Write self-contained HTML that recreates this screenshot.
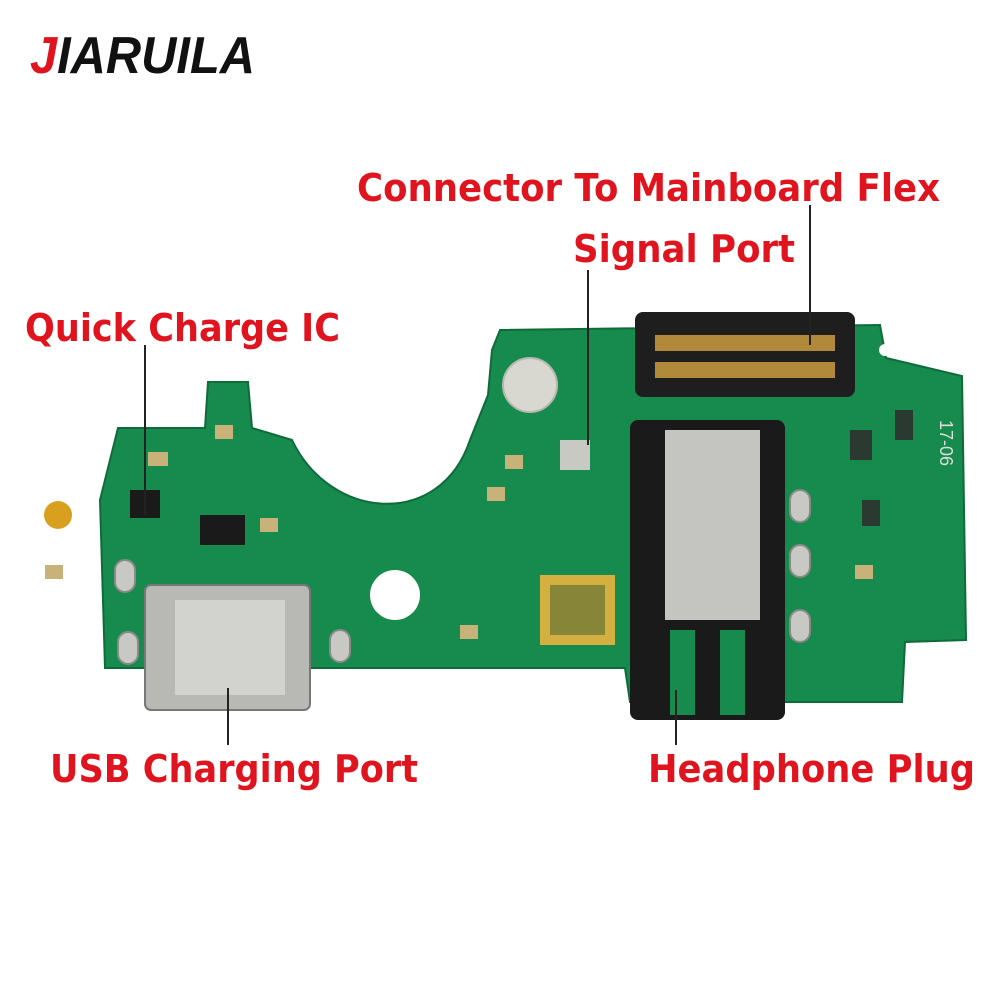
<!DOCTYPE html>
<html><head><meta charset="utf-8"><style>
html,body{margin:0;padding:0;background:#fff;}
svg{display:block;}
</style></head><body>
<svg width="1000" height="1000" viewBox="0 0 1000 1000" xmlns="http://www.w3.org/2000/svg">
<rect width="1000" height="1000" fill="#fff"/>
<text x="30" y="73" font-family="Liberation Sans, sans-serif" font-weight="bold" font-style="italic" font-size="52" textLength="225" lengthAdjust="spacingAndGlyphs"><tspan fill="#e0141e">J</tspan><tspan fill="#111">IARUILA</tspan></text>

<path d="M118 428 L205 428 L208 382 L248 382 L252 428 L292 440 C330 520 440 530 470 440 L488 395 L492 350 L500 330 L880 325 L886 358 L962 376 L966 640 L905 642 L902 702 L630 702 L625 668 L105 668 L100 500 Z" fill="#178a4e" stroke="#0f6b3a" stroke-width="2"/>
<circle cx="395" cy="595" r="25" fill="#fff"/>
<circle cx="530" cy="385" r="27" fill="#d8d8d0" stroke="#b8b8b0" stroke-width="2"/>
<circle cx="58" cy="515" r="14" fill="#d9a020"/>
<circle cx="885" cy="350" r="6" fill="#fff"/>
<!-- pads -->
<g fill="#c8c8c4" stroke="#8a8a86" stroke-width="2">
<rect x="115" y="560" width="20" height="32" rx="10"/>
<rect x="118" y="632" width="20" height="32" rx="10"/>
<rect x="330" y="630" width="20" height="32" rx="10"/>
<rect x="640" y="488" width="20" height="32" rx="10"/>
<rect x="640" y="545" width="20" height="32" rx="10"/>
<rect x="640" y="622" width="20" height="32" rx="10"/>
<rect x="790" y="490" width="20" height="32" rx="10"/>
<rect x="790" y="545" width="20" height="32" rx="10"/>
<rect x="790" y="610" width="20" height="32" rx="10"/>
</g>
<g fill="#c9b27a">
<rect x="215" y="425" width="18" height="14"/><rect x="148" y="452" width="20" height="14"/>
<rect x="45" y="565" width="18" height="14"/><rect x="460" y="625" width="18" height="14"/>
<rect x="855" y="565" width="18" height="14"/><rect x="505" y="455" width="18" height="14"/>
<rect x="487" y="487" width="18" height="14"/><rect x="260" y="518" width="18" height="14"/>
</g>
<g fill="#2a3a30">
<rect x="850" y="430" width="22" height="30"/><rect x="895" y="410" width="18" height="30"/>
<rect x="862" y="500" width="18" height="26"/>
</g>
<rect x="145" y="585" width="165" height="125" rx="6" fill="#b8b8b4" stroke="#777" stroke-width="2"/>
<rect x="175" y="600" width="110" height="95" fill="#d2d2ce"/>
<rect x="635" y="312" width="220" height="85" rx="8" fill="#1e1e1e"/>
<rect x="655" y="335" width="180" height="16" fill="#b08a3a"/>
<rect x="655" y="362" width="180" height="16" fill="#b08a3a"/>
<rect x="630" y="420" width="155" height="300" rx="8" fill="#1a1a1a"/>
<rect x="665" y="430" width="95" height="190" fill="#c4c4c0"/>
<rect x="670" y="630" width="25" height="85" fill="#178a4e"/>
<rect x="720" y="630" width="25" height="85" fill="#178a4e"/>
<rect x="540" y="575" width="75" height="70" fill="#d4b040"/>
<rect x="550" y="585" width="55" height="50" fill="#3a5a30" opacity="0.5"/>
<rect x="130" y="490" width="30" height="28" fill="#1a1a1a"/>
<rect x="200" y="515" width="45" height="30" fill="#1a1a1a"/>
<rect x="560" y="440" width="30" height="30" fill="#c9c9c4"/>
<text x="940" y="420" transform="rotate(90 940 420)" font-family="Liberation Sans, sans-serif" font-size="18" fill="#ddd">17-06</text>
<g stroke="#222" stroke-width="2">
<line x1="145" y1="345" x2="145" y2="515"/>
<line x1="588" y1="270" x2="588" y2="445"/>
<line x1="810" y1="205" x2="810" y2="345"/>
<line x1="228" y1="688" x2="228" y2="745"/>
<line x1="676" y1="690" x2="676" y2="745"/>
</g>
<g font-family="DejaVu Sans, Liberation Sans, sans-serif" font-weight="bold" font-size="38" fill="#e0141e">
<text x="357" y="201" textLength="583" lengthAdjust="spacingAndGlyphs">Connector To Mainboard Flex</text>
<text x="573" y="262" textLength="222" lengthAdjust="spacingAndGlyphs">Signal Port</text>
<text x="25" y="341" textLength="315" lengthAdjust="spacingAndGlyphs">Quick Charge IC</text>
<text x="50" y="782" textLength="368" lengthAdjust="spacingAndGlyphs">USB Charging Port</text>
<text x="648" y="782" textLength="327" lengthAdjust="spacingAndGlyphs">Headphone Plug</text>
</g>
</svg>
</body></html>
